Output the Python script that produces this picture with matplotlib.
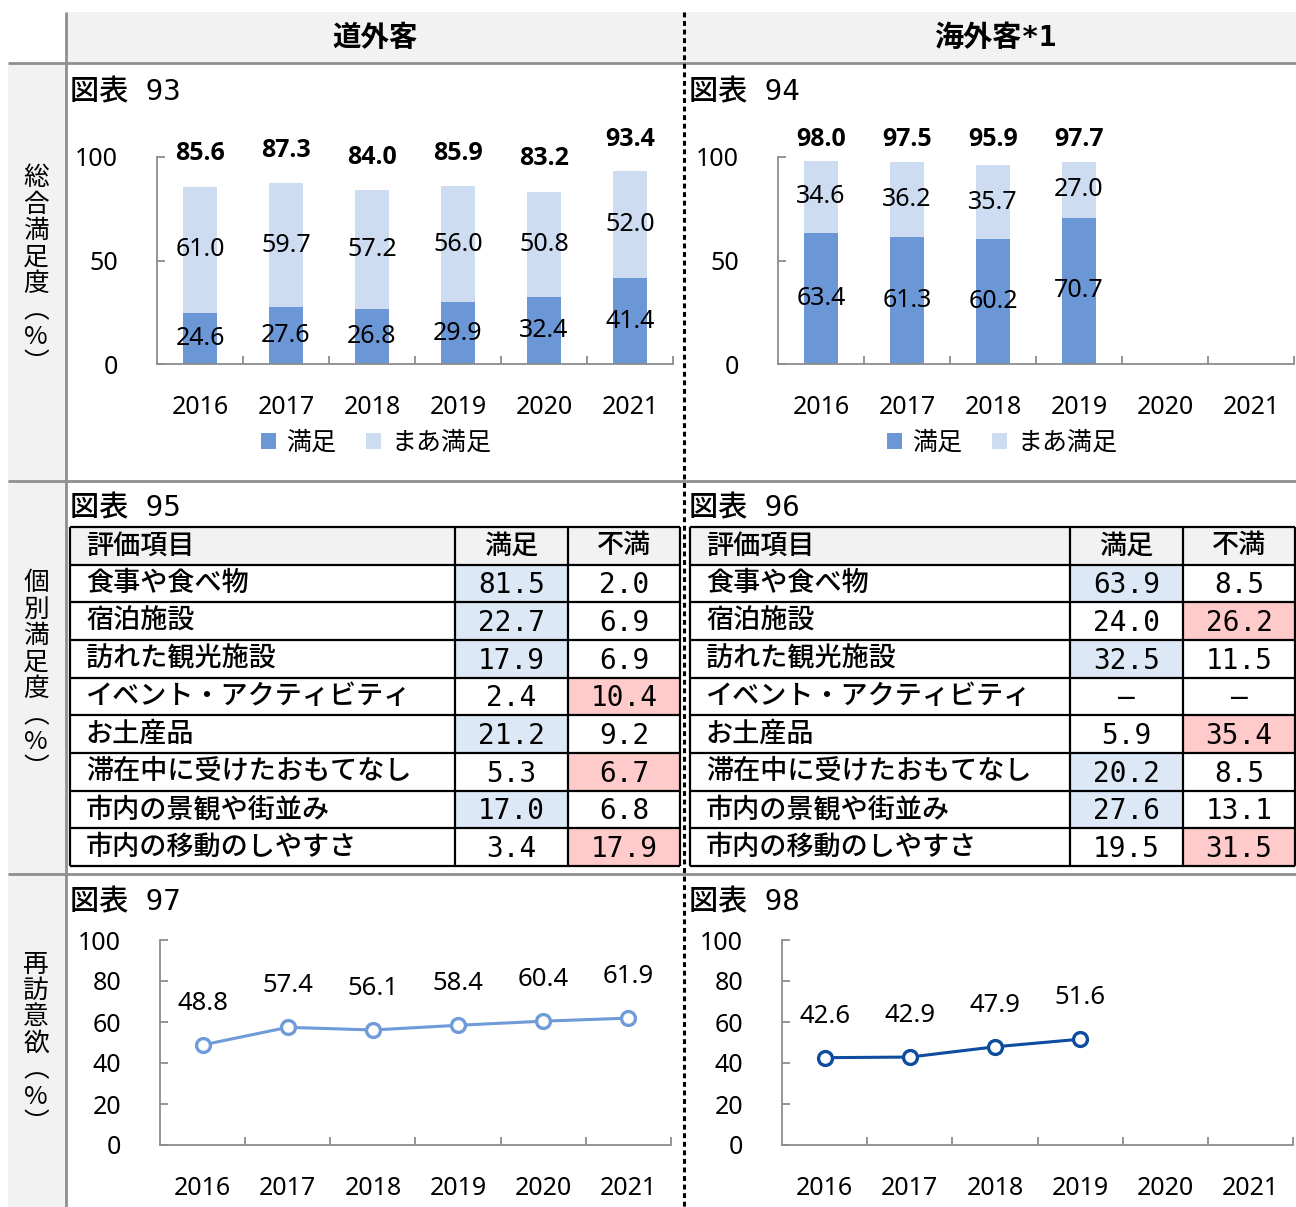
import numpy as np
import matplotlib
matplotlib.use('Agg')
import matplotlib.pyplot as plt
from matplotlib import font_manager
from matplotlib.patches import Rectangle

plt.rcParams['font.family'] = ['Noto Sans', 'Noto Sans CJK JP']

years = ['2016', '2017', '2018', '2019', '2020', '2021']

# 総合満足度 (%)
dom_satisfied = [24.6, 27.6, 26.8, 29.9, 32.4, 41.4]
dom_somewhat = [61.0, 59.7, 57.2, 56.0, 50.8, 52.0]
intl_satisfied = [63.4, 61.3, 60.2, 70.7]
intl_somewhat = [34.6, 36.2, 35.7, 27.0]

# 個別満足度 (%)
items = ['食事や食べ物', '宿泊施設', '訪れた観光施設', 'イベント・アクティビティ',
         'お土産品', '滞在中に受けたおもてなし', '市内の景観や街並み', '市内の移動のしやすさ']
dom_good = [81.5, 22.7, 17.9, 2.4, 21.2, 5.3, 17.0, 3.4]
dom_bad = [2.0, 6.9, 6.9, 10.4, 9.2, 6.7, 6.8, 17.9]
intl_good = [63.9, 24.0, 32.5, None, 5.9, 20.2, 27.6, 19.5]
intl_bad = [8.5, 26.2, 11.5, None, 35.4, 8.5, 13.1, 31.5]

# 再訪意欲 (%)
dom_revisit = [48.8, 57.4, 56.1, 58.4, 60.4, 61.9]
intl_revisit = [42.6, 42.9, 47.9, 51.6]

W, H = 1296, 1207

DARK = '#6b97d6'
LIGHT = '#cddcf1'
LINE_DOM = '#6f9bd9'
LINE_INTL = '#0d4c9e'
AXIS_GRAY = '#8c8c8c'
FRAME_GRAY = '#8f8f8f'
HEAD_BG = '#f2f2f2'
CELL_BLUE = '#dde8f6'
CELL_RED = '#ffcaca'

fonts = font_manager.fontManager.ttflist
installed = {f.name for f in fonts}
bold_ok = {f.name for f in fonts if f.weight in (700, 'bold')}
NARROW = [f for f in ['Liberation Sans Narrow', 'Noto Sans Mono CJK JP', 'DejaVu Sans Mono']
          if f in installed][:1] + ['Noto Sans CJK JP']
BOLD_NUM = [f for f in ['Noto Sans', 'Open Sans', 'Lato', 'DejaVu Sans']
            if f in bold_ok][:1] + ['Noto Sans CJK JP']
CJK = ['Noto Sans CJK JP', 'Noto Sans']


def px_box(x0, y0, x1, y1):
    return [x0 / W, 1 - y1 / H, (x1 - x0) / W, (y1 - y0) / H]


def style_axes(ax):
    ax.set_xlim(-0.5, 5.5)
    ax.set_ylim(0, 100)
    ax.patch.set_alpha(0)
    ax.spines[['top', 'right']].set_visible(False)
    ax.spines[['left', 'bottom']].set_color(AXIS_GRAY)
    ax.spines[['left', 'bottom']].set_linewidth(1.3)
    ax.set_xticks(range(len(years)), years)
    ax.set_xticks(np.arange(0.5, 6, 1), minor=True)
    ax.tick_params(axis='x', which='major', length=0, pad=22, labelsize=18)
    ax.tick_params(axis='x', which='minor', direction='in', length=6, width=1.3, color=AXIS_GRAY)
    ax.tick_params(axis='y', direction='in', length=6, width=1.3, color=AXIS_GRAY,
                   pad=28, labelsize=18)


def draw_bars(ax, sat, some):
    x = np.arange(len(sat))
    b1 = ax.bar(x, sat, 0.4, color=DARK, label='満足')
    b2 = ax.bar(x, some, 0.4, bottom=sat, color=LIGHT, label='まあ満足')
    for i in x:
        total = round(sat[i] + some[i], 1)
        ax.text(i, sat[i] / 2, f'{sat[i]:.1f}', ha='center', va='center', fontsize=18)
        ax.text(i, sat[i] + some[i] / 2, f'{some[i]:.1f}', ha='center', va='center', fontsize=18)
        # totals sit above the bar, but never past the top of the plot area
        ax.text(i, min(total + 16, 108.5), f'{total:.1f}', ha='center', va='center',
                fontsize=18, fontweight='bold', family=BOLD_NUM, clip_on=False)
    style_axes(ax)
    ax.set_yticks([0, 50, 100])
    return b1, b2


def draw_line(ax, vals, color):
    x = np.arange(len(vals))
    ax.plot(x, vals, color=color, lw=2.2, marker='o', ms=10, mfc='white', mew=2.4,
            mec=color, clip_on=False, zorder=3)
    for i, v in zip(x, vals):
        ax.annotate(f'{v:.1f}', (i, v), xytext=(0, 30), textcoords='offset points',
                    ha='center', va='center', fontsize=18.5)
    style_axes(ax)
    ax.set_yticks(range(0, 101, 20))


def draw_table(ax, good, bad, col_w):
    edges = np.concatenate([[0], np.cumsum(col_w)])
    n = len(items) + 1
    ax.set_xlim(0, edges[-1])
    ax.set_ylim(n, 0)
    ax.axis('off')
    ax.add_patch(Rectangle((0, 0), edges[-1], 1, color=HEAD_BG, lw=0))
    mid1 = (edges[1] + edges[2]) / 2
    mid2 = (edges[2] + edges[3]) / 2
    head = dict(va='center', fontsize=19.5, family=CJK, fontweight='medium')
    ax.text(16, 0.5, '評価項目', ha='left', **head)
    ax.text(mid1, 0.5, '満足', ha='center', **head)
    ax.text(mid2, 0.5, '不満', ha='center', **head)
    for r, (name, g, b) in enumerate(zip(items, good, bad), start=1):
        if g is not None and b is not None:
            if g > b:
                ax.add_patch(Rectangle((edges[1], r), col_w[1], 1, color=CELL_BLUE, lw=0))
            elif b > g:
                ax.add_patch(Rectangle((edges[2], r), col_w[2], 1, color=CELL_RED, lw=0))
        ax.text(16, r + 0.5, name, ha='left', **head)
        for xm, v in [(mid1, g), (mid2, b)]:
            ax.text(xm, r + 0.55, '–' if v is None else f'{v:.1f}', ha='center', va='center',
                    fontsize=20, family=NARROW)
    ax.hlines(range(n + 1), 0, edges[-1], color='black', lw=1.6, clip_on=False)
    ax.vlines(edges, 0, n, color='black', lw=1.6, clip_on=False)


fig = plt.figure(figsize=(W / 100, H / 100), dpi=100)

# page frame in pixel coordinates
bg = fig.add_axes([0, 0, 1, 1])
bg.set_xlim(0, W)
bg.set_ylim(H, 0)
bg.axis('off')
bg.add_patch(Rectangle((66, 12), W - 66, 51, color=HEAD_BG, lw=0))
bg.add_patch(Rectangle((8, 63), 58, H - 63, color=HEAD_BG, lw=0))
bg.hlines([63, 481, 874], 8, W, color=FRAME_GRAY, lw=2)
bg.vlines(66, 12, H, color=FRAME_GRAY, lw=2)
bg.vlines(684, 12, H, color='black', lw=2.2, linestyles=(0, (1.6, 1.2)))

bg.text(375, 38, '道外客', ha='center', va='center', fontsize=20.5, family=CJK, fontweight='bold')
bg.text(995, 38, '海外客*1', ha='center', va='center', fontsize=21, family=NARROW,
        fontweight='bold')

for label, yc in [('総合満足度︵%︶', 271), ('個別満足度︵%︶', 676), ('再訪意欲︵%︶', 1044)]:
    step = 26.5
    y0 = yc - (len(label) - 1) / 2 * step
    for k, ch in enumerate(label):
        bg.text(36, y0 + k * step, ch, ha='center', va='center', fontsize=18.5, family=CJK)

for title, x, y in [('図表 93', 70, 92), ('図表 94', 689, 92), ('図表 95', 70, 508),
                    ('図表 96', 689, 508), ('図表 97', 70, 902), ('図表 98', 689, 902)]:
    bg.text(x, y, title, ha='left', va='center', fontsize=21, family=NARROW,
            fontweight='medium')

leg_kw = dict(loc='center', bbox_transform=fig.transFigure, ncol=2, frameon=False, fontsize=18,
              handlelength=0.6, handleheight=0.6, columnspacing=1.2, handletextpad=0.4)

# 図表93 / 94
ax93 = fig.add_axes(px_box(157, 157, 673, 364))
h = draw_bars(ax93, dom_satisfied, dom_somewhat)
ax93.legend(h, ['満足', 'まあ満足'], bbox_to_anchor=(376 / W, 1 - 443 / H), **leg_kw)

ax94 = fig.add_axes(px_box(778, 157, 1294, 364))
h = draw_bars(ax94, intl_satisfied, intl_somewhat)
ax94.legend(h, ['満足', 'まあ満足'], bbox_to_anchor=(1002 / W, 1 - 443 / H), **leg_kw)

# 図表95 / 96
draw_table(fig.add_axes(px_box(70, 527, 680, 866)), dom_good, dom_bad, [385, 113, 112])
draw_table(fig.add_axes(px_box(690, 527, 1295, 866)), intl_good, intl_bad, [380, 113, 112])

# 図表97 / 98
draw_line(fig.add_axes(px_box(160, 940, 671, 1145)), dom_revisit, LINE_DOM)
draw_line(fig.add_axes(px_box(782, 940, 1293, 1145)), intl_revisit, LINE_INTL)

fig.savefig('out.png', dpi=100)
